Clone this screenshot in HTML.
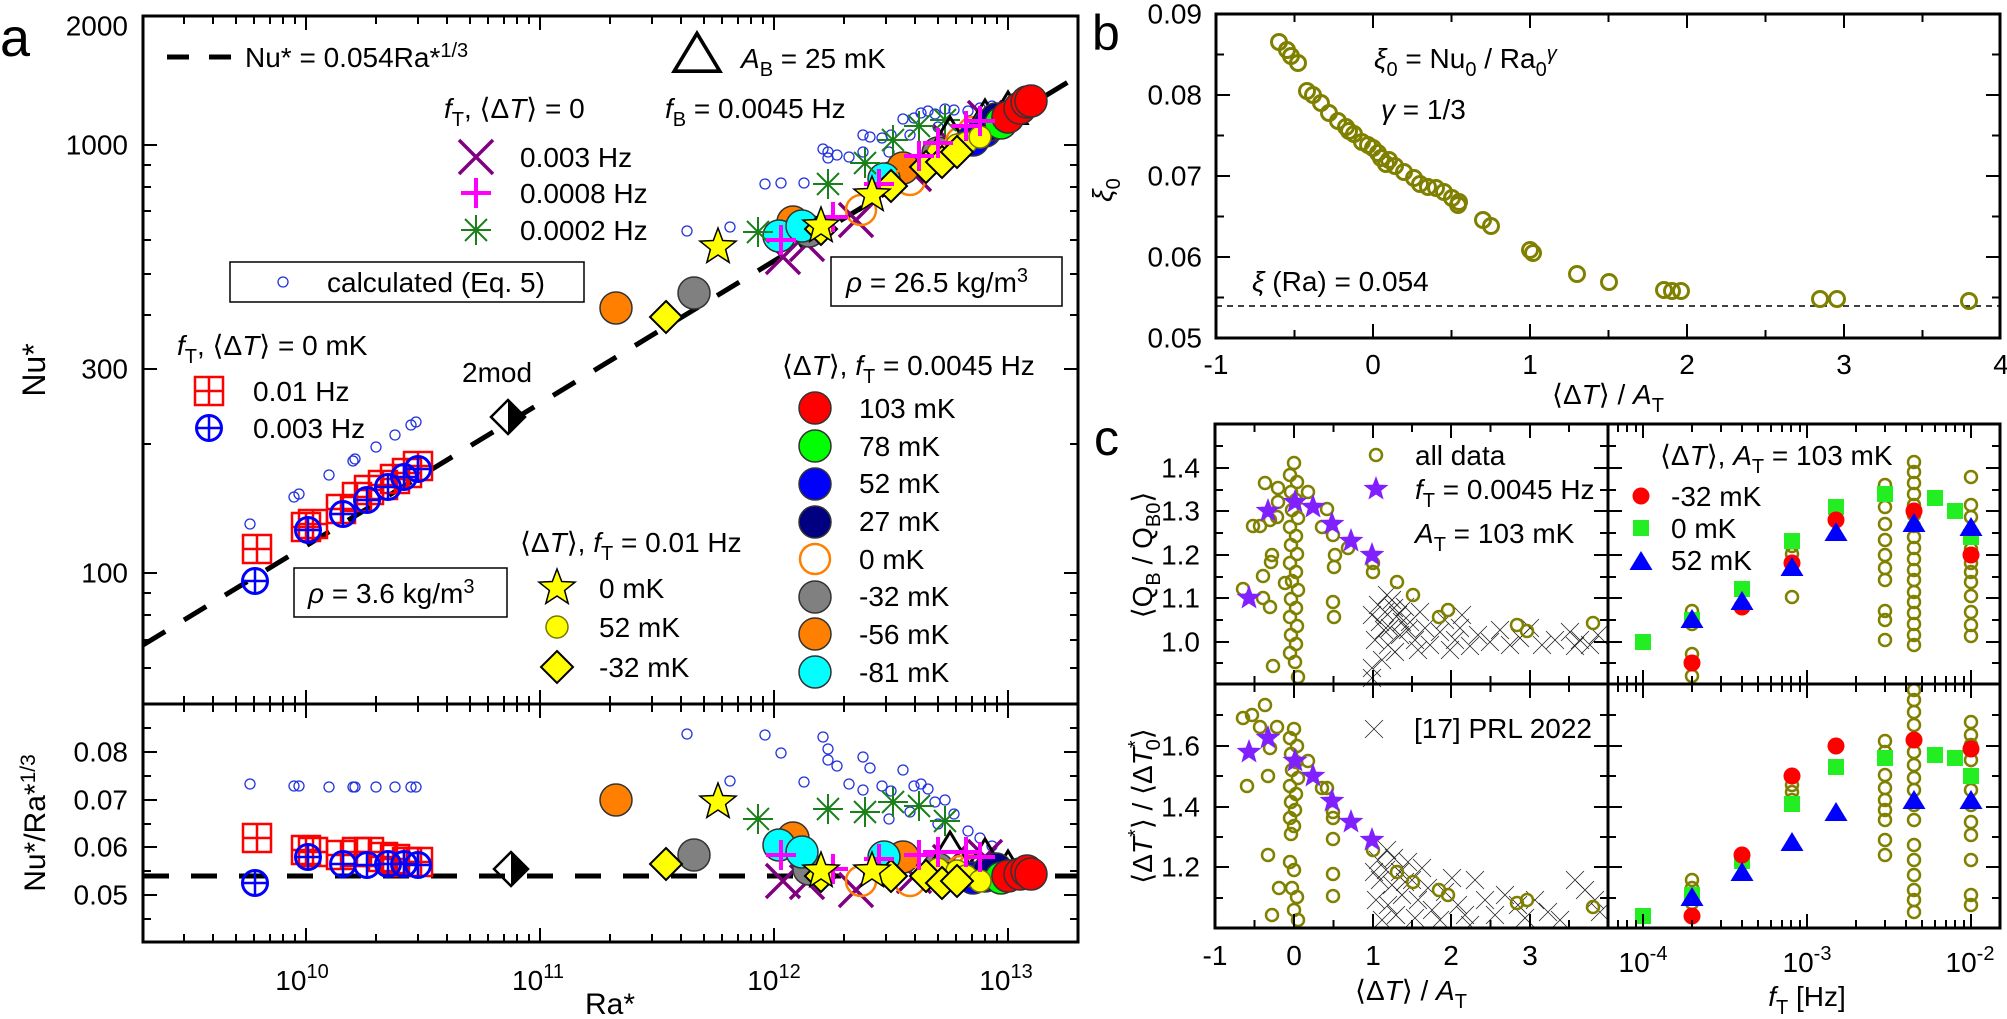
<!DOCTYPE html>
<html><head><meta charset="utf-8">
<style>
html,body{margin:0;padding:0;background:#fff;}
svg{display:block;}
text{font-family:"Liberation Sans",Arial,sans-serif;fill:#000;}
</style></head>
<body>
<svg width="2007" height="1019" viewBox="0 0 2007 1019" xmlns="http://www.w3.org/2000/svg" xmlns:xlink="http://www.w3.org/1999/xlink">
<defs>
<clipPath id="ca"><rect x="143" y="16" width="935" height="688"/></clipPath>
<clipPath id="cb"><rect x="143" y="704" width="935" height="238"/></clipPath>
<clipPath id="cc"><rect x="1215" y="424" width="785" height="504"/></clipPath>
<circle id="cs" r="5" fill="none" stroke="#2233dd" stroke-width="1.3"/>
<g id="sqg" fill="none" stroke="#f00" stroke-width="2.5"><rect x="-14" y="-14" width="28" height="28"/><path d="M-14 0H14M0 -14V14"/></g>
<g id="opl" fill="none" stroke="#00f" stroke-width="3"><circle r="12.5"/><path d="M-12.5 0H12.5M0 -12.5V12.5" stroke-width="2.5"/></g>
<path id="px" d="M-17 -17L17 17M-17 17L17 -17" stroke="#800080" stroke-width="3.5" fill="none"/>
<path id="mp" d="M-15 0H15M0 -15V15" stroke="#ff00ff" stroke-width="4" fill="none"/>
<path id="as" d="M-15 0H15M0 -15V15M-11 -11L11 11M-11 11L11 -11" stroke="#1a801a" stroke-width="2" fill="none"/>
<polygon id="tr" points="0,-18 19,13.5 -19,13.5" fill="none" stroke="#000" stroke-width="3"/>
<polygon id="yd" points="0,-16 16,0 0,16 -16,0" fill="#ffff00" stroke="#000" stroke-width="2"/>
<polygon id="ys" points="0,-19 4.7,-6.47 18.07,-5.87 7.61,2.47 11.17,15.37 0,8 -11.17,15.37 -7.61,2.47 -18.07,-5.87 -4.7,-6.47" fill="#ffff00" stroke="#000" stroke-width="1.5"/>
<circle id="yc" r="11" fill="#ffff00" stroke="#777700" stroke-width="1.5"/>
<circle id="cR" r="16" fill="#ff0000" stroke="#333" stroke-width="1.5"/>
<circle id="cG" r="16" fill="#00ff00" stroke="#333" stroke-width="1.5"/>
<circle id="cB" r="16" fill="#0000ff" stroke="#333" stroke-width="1.5"/>
<circle id="cN" r="16" fill="#000080" stroke="#333" stroke-width="1.5"/>
<circle id="cO" r="15" fill="none" stroke="#ff8000" stroke-width="2.5"/>
<circle id="cY" r="16" fill="#808080" stroke="#333" stroke-width="1.5"/>
<circle id="cA" r="16" fill="#ff8000" stroke="#333" stroke-width="1.5"/>
<circle id="cC" r="16" fill="#00ffff" stroke="#333" stroke-width="1.5"/>
<g id="hd"><polygon points="0,-17 17,0 0,17" fill="#000"/><polygon points="0,-17 17,0 0,17 -17,0" fill="none" stroke="#000" stroke-width="2.5"/></g>
<circle id="oc" r="6" fill="none" stroke="#808000" stroke-width="2.5"/>
<circle id="ob" r="7.5" fill="none" stroke="#808000" stroke-width="3"/>
<polygon id="ps" points="0,-13 3.2,-4.4 12.4,-4 5.2,1.7 7.6,10.5 0,5.5 -7.6,10.5 -5.2,1.7 -12.4,-4 -3.2,-4.4" fill="#8020ff"/>
<path id="kx" d="M-9 -9L9 9M-9 9L9 -9" stroke="#222" stroke-width="0.8" fill="none"/>
<rect id="gs" x="-8" y="-8" width="16" height="16" fill="#22ee22"/>
<circle id="rd" r="8.5" fill="#ff0000"/>
<polygon id="bt" points="0,-11 11.5,8 -11.5,8" fill="#0000ff"/>
<path id="mxa" d="M184 0V8M213 0V8M236 0V8M254 0V8M270 0V8M283 0V8M295 0V8M376 0V8M418 0V8M447 0V8M470 0V8M488 0V8M504 0V8M517 0V8M529 0V8M610 0V8M652 0V8M681 0V8M704 0V8M722 0V8M738 0V8M751 0V8M763 0V8M844 0V8M886 0V8M915 0V8M938 0V8M956 0V8M972 0V8M985 0V8M997 0V8" stroke="#000" stroke-width="2"/>
<path id="Mxa" d="M306 0V14M540 0V14M774 0V14M1008 0V14" stroke="#000" stroke-width="2"/>
<path id="mxc" d="M1254.5 0V8M1333.5 0V8M1412 0V8M1490.5 0V8M1569 0V8M1618 0V8M1627 0V8M1636 0V8M1692 0V8M1721 0V8M1742 0V8M1758 0V8M1771 0V8M1782 0V8M1791 0V8M1800 0V8M1856 0V8M1885 0V8M1906 0V8M1922 0V8M1935 0V8M1946 0V8M1955 0V8M1964 0V8" stroke="#000" stroke-width="2"/>
<path id="Mxc" d="M1294 0V14M1373 0V14M1451 0V14M1530 0V14M1643 0V14M1807 0V14M1971 0V14" stroke="#000" stroke-width="2"/>
</defs>

<!-- ===== Panel a top data ===== -->
<g clip-path="url(#ca)">
<path d="M143 645L1078 76" stroke="#000" stroke-width="5" stroke-dasharray="26,22" fill="none"/>
<use href="#cs" x="250" y="524"/><use href="#cs" x="294" y="497"/><use href="#cs" x="299" y="494"/><use href="#cs" x="329" y="475"/><use href="#cs" x="353" y="461"/><use href="#cs" x="355" y="459"/><use href="#cs" x="376" y="447"/><use href="#cs" x="395" y="435"/><use href="#cs" x="411" y="425"/><use href="#cs" x="416" y="422"/>
<use href="#cs" x="687" y="231"/><use href="#cs" x="730" y="227"/><use href="#cs" x="765" y="184"/><use href="#cs" x="781" y="183"/><use href="#cs" x="804" y="183"/><use href="#cs" x="823" y="149"/><use href="#cs" x="828" y="152"/><use href="#cs" x="828" y="158"/><use href="#cs" x="837" y="155"/><use href="#cs" x="849" y="157"/><use href="#cs" x="863" y="152"/><use href="#cs" x="863" y="135"/><use href="#cs" x="870" y="137"/><use href="#cs" x="882" y="138"/><use href="#cs" x="891" y="135"/><use href="#cs" x="903" y="119"/><use href="#cs" x="914" y="118"/><use href="#cs" x="921" y="113"/><use href="#cs" x="928" y="111"/><use href="#cs" x="935" y="114"/><use href="#cs" x="945" y="109"/><use href="#cs" x="954" y="110"/><use href="#cs" x="968" y="111"/><use href="#cs" x="992" y="106"/><use href="#cs" x="994" y="114"/><use href="#cs" x="966" y="133"/><use href="#cs" x="964" y="142"/><use href="#cs" x="992" y="122"/><use href="#cs" x="910" y="135"/><use href="#cs" x="889" y="152"/><use href="#cs" x="938" y="127"/><use href="#cs" x="980" y="108"/>
<use href="#sqg" x="257" y="549"/><use href="#sqg" x="306" y="527"/><use href="#sqg" x="313" y="524"/><use href="#sqg" x="341" y="509"/><use href="#sqg" x="357" y="497"/><use href="#sqg" x="369" y="490"/><use href="#sqg" x="383" y="485"/><use href="#sqg" x="395" y="479"/><use href="#sqg" x="407" y="473"/><use href="#sqg" x="418" y="466"/>
<use href="#opl" x="255" y="581"/><use href="#opl" x="308" y="530"/><use href="#opl" x="343" y="514"/><use href="#opl" x="367" y="500"/><use href="#opl" x="388" y="487"/><use href="#opl" x="404" y="477"/><use href="#opl" x="418" y="469"/>
<use href="#hd" x="508" y="417"/>
<use href="#px" x="783" y="257"/><use href="#px" x="807" y="244"/><use href="#px" x="856" y="220"/><use href="#px" x="914" y="174"/><use href="#px" x="950" y="142"/><use href="#px" x="985" y="118"/>
<use href="#cY" x="694" y="293"/><use href="#cY" x="809" y="231"/><use href="#cY" x="891" y="178"/><use href="#cY" x="938" y="153"/>
<use href="#cA" x="616" y="308"/><use href="#cA" x="793" y="222"/><use href="#cA" x="903" y="168"/>
<use href="#cC" x="779" y="236"/><use href="#cC" x="802" y="226"/><use href="#cC" x="884" y="179"/>
<use href="#cO" x="861" y="210"/><use href="#cO" x="910" y="180"/><use href="#cO" x="961" y="142"/><use href="#cO" x="973" y="132"/>
<use href="#as" x="758" y="232"/><use href="#as" x="828" y="184"/><use href="#as" x="865" y="163"/><use href="#as" x="893" y="140"/><use href="#as" x="919" y="126"/><use href="#as" x="945" y="120"/>
<use href="#tr" x="950" y="135"/><use href="#tr" x="985" y="118"/><use href="#tr" x="1008" y="110"/>
<use href="#cB" x="973" y="140"/><use href="#cB" x="985" y="131"/><use href="#cB" x="992" y="125"/>
<use href="#cN" x="989" y="125"/><use href="#cN" x="996" y="119"/>
<use href="#cG" x="1001" y="123"/><use href="#cG" x="1008" y="117"/>
<use href="#cR" x="1008" y="117"/><use href="#cR" x="1020" y="108"/><use href="#cR" x="1027" y="102"/><use href="#cR" x="1031" y="101"/>
<use href="#yc" x="938" y="153"/><use href="#yc" x="957" y="145"/><use href="#yc" x="966" y="143"/><use href="#yc" x="980" y="137"/>
<use href="#yd" x="666" y="317"/><use href="#yd" x="821" y="229"/><use href="#yd" x="891" y="186"/><use href="#yd" x="926" y="167"/><use href="#yd" x="942" y="162"/><use href="#yd" x="957" y="152"/>
<use href="#mp" x="781" y="240"/><use href="#mp" x="833" y="217"/><use href="#mp" x="879" y="184"/><use href="#mp" x="919" y="156"/><use href="#mp" x="938" y="143"/><use href="#mp" x="966" y="126"/><use href="#mp" x="980" y="121"/>
<use href="#ys" x="718" y="247"/><use href="#ys" x="821" y="226"/><use href="#ys" x="872" y="195"/>
</g>

<!-- ===== Panel a bottom data ===== -->
<g clip-path="url(#cb)">
<path d="M143 876H1078" stroke="#000" stroke-width="5" stroke-dasharray="26,22" fill="none"/>
<use href="#cs" x="250" y="784"/><use href="#cs" x="294" y="786"/><use href="#cs" x="299" y="786"/><use href="#cs" x="329" y="787"/><use href="#cs" x="353" y="787"/><use href="#cs" x="355" y="787"/><use href="#cs" x="376" y="787"/><use href="#cs" x="395" y="787"/><use href="#cs" x="411" y="787"/><use href="#cs" x="416" y="787"/>
<use href="#cs" x="687" y="734"/><use href="#cs" x="730" y="781"/><use href="#cs" x="765" y="735"/><use href="#cs" x="781" y="753"/><use href="#cs" x="804" y="782"/><use href="#cs" x="823" y="737"/><use href="#cs" x="828" y="749"/><use href="#cs" x="828" y="760"/><use href="#cs" x="837" y="766"/><use href="#cs" x="849" y="784"/><use href="#cs" x="863" y="790"/><use href="#cs" x="863" y="757"/><use href="#cs" x="870" y="768"/><use href="#cs" x="882" y="786"/><use href="#cs" x="891" y="791"/><use href="#cs" x="903" y="770"/><use href="#cs" x="914" y="786"/><use href="#cs" x="921" y="784"/><use href="#cs" x="928" y="789"/><use href="#cs" x="935" y="802"/><use href="#cs" x="945" y="800"/><use href="#cs" x="954" y="814"/><use href="#cs" x="968" y="831"/><use href="#cs" x="992" y="846"/><use href="#cs" x="994" y="859"/><use href="#cs" x="966" y="862"/><use href="#cs" x="964" y="872"/><use href="#cs" x="992" y="869"/><use href="#cs" x="910" y="812"/><use href="#cs" x="889" y="819"/><use href="#cs" x="938" y="824"/><use href="#cs" x="980" y="838"/>
<use href="#sqg" x="257" y="838"/><use href="#sqg" x="306" y="850"/><use href="#sqg" x="313" y="852"/><use href="#sqg" x="341" y="855"/><use href="#sqg" x="357" y="852"/><use href="#sqg" x="369" y="852"/><use href="#sqg" x="383" y="857"/><use href="#sqg" x="395" y="859"/><use href="#sqg" x="407" y="862"/><use href="#sqg" x="418" y="862"/>
<use href="#opl" x="255" y="883"/><use href="#opl" x="308" y="857"/><use href="#opl" x="343" y="864"/><use href="#opl" x="367" y="865"/><use href="#opl" x="388" y="864"/><use href="#opl" x="404" y="864"/><use href="#opl" x="418" y="865"/>
<use href="#hd" x="511" y="869"/>
<use href="#px" x="783" y="881"/><use href="#px" x="807" y="882"/><use href="#px" x="856" y="890"/><use href="#px" x="914" y="876"/><use href="#px" x="950" y="862"/><use href="#px" x="985" y="857"/>
<use href="#cY" x="694" y="855"/><use href="#cY" x="809" y="869"/><use href="#cY" x="891" y="862"/><use href="#cY" x="938" y="869"/>
<use href="#cA" x="616" y="800"/><use href="#cA" x="793" y="838"/><use href="#cA" x="903" y="857"/>
<use href="#cC" x="779" y="845"/><use href="#cC" x="802" y="852"/><use href="#cC" x="884" y="857"/>
<use href="#cO" x="861" y="881"/><use href="#cO" x="910" y="881"/><use href="#cO" x="961" y="871"/><use href="#cO" x="973" y="869"/>
<use href="#as" x="758" y="819"/><use href="#as" x="828" y="809"/><use href="#as" x="865" y="812"/><use href="#as" x="893" y="802"/><use href="#as" x="919" y="806"/><use href="#as" x="945" y="821"/>
<use href="#tr" x="950" y="850"/><use href="#tr" x="985" y="857"/><use href="#tr" x="1008" y="869"/>
<use href="#cB" x="973" y="878"/><use href="#cB" x="985" y="876"/><use href="#cB" x="992" y="874"/>
<use href="#cN" x="989" y="871"/><use href="#cN" x="996" y="869"/>
<use href="#cG" x="1001" y="878"/><use href="#cG" x="1008" y="876"/>
<use href="#cR" x="1008" y="876"/><use href="#cR" x="1020" y="874"/><use href="#cR" x="1027" y="871"/><use href="#cR" x="1031" y="874"/>
<use href="#yc" x="938" y="869"/><use href="#yc" x="957" y="871"/><use href="#yc" x="966" y="876"/><use href="#yc" x="980" y="881"/>
<use href="#yd" x="666" y="864"/><use href="#yd" x="821" y="876"/><use href="#yd" x="891" y="876"/><use href="#yd" x="926" y="876"/><use href="#yd" x="942" y="883"/><use href="#yd" x="957" y="881"/>
<use href="#mp" x="781" y="855"/><use href="#mp" x="833" y="869"/><use href="#mp" x="879" y="859"/><use href="#mp" x="919" y="855"/><use href="#mp" x="938" y="852"/><use href="#mp" x="966" y="852"/><use href="#mp" x="980" y="857"/>
<use href="#ys" x="718" y="802"/><use href="#ys" x="821" y="871"/><use href="#ys" x="872" y="871"/>
</g>

<!-- ===== Panel b data ===== -->
<path d="M1216 306H2000" stroke="#000" stroke-width="1.5" stroke-dasharray="6,5"/>
<g>
<use href="#ob" x="1279" y="42"/><use href="#ob" x="1287" y="50"/><use href="#ob" x="1291" y="56"/><use href="#ob" x="1298" y="63"/><use href="#ob" x="1307" y="91"/><use href="#ob" x="1313" y="95"/><use href="#ob" x="1321" y="103"/><use href="#ob" x="1329" y="113"/><use href="#ob" x="1338" y="121"/><use href="#ob" x="1346" y="127"/><use href="#ob" x="1349" y="131"/><use href="#ob" x="1354" y="134"/><use href="#ob" x="1362" y="142"/><use href="#ob" x="1368" y="145"/><use href="#ob" x="1373" y="148"/><use href="#ob" x="1378" y="153"/><use href="#ob" x="1381" y="158"/><use href="#ob" x="1386" y="164"/><use href="#ob" x="1389" y="160"/><use href="#ob" x="1395" y="166"/><use href="#ob" x="1404" y="172"/><use href="#ob" x="1414" y="178"/><use href="#ob" x="1420" y="184"/><use href="#ob" x="1428" y="187"/><use href="#ob" x="1436" y="188"/><use href="#ob" x="1444" y="192"/><use href="#ob" x="1452" y="198"/><use href="#ob" x="1458" y="205"/><use href="#ob" x="1459" y="202"/><use href="#ob" x="1483" y="220"/><use href="#ob" x="1491" y="226"/><use href="#ob" x="1530" y="250"/><use href="#ob" x="1533" y="253"/><use href="#ob" x="1577" y="274"/><use href="#ob" x="1609" y="282"/><use href="#ob" x="1664" y="290"/><use href="#ob" x="1672" y="291"/><use href="#ob" x="1681" y="291"/><use href="#ob" x="1820" y="299"/><use href="#ob" x="1837" y="299"/><use href="#ob" x="1969" y="301"/>
</g>

<!-- ===== Panel c data ===== -->
<g clip-path="url(#cc)">
<!-- crosses top -->
<use href="#kx" x="1378" y="605"/><use href="#kx" x="1385" y="612"/><use href="#kx" x="1392" y="600"/><use href="#kx" x="1380" y="622"/><use href="#kx" x="1390" y="628"/><use href="#kx" x="1398" y="615"/><use href="#kx" x="1405" y="607"/><use href="#kx" x="1410" y="622"/><use href="#kx" x="1375" y="640"/><use href="#kx" x="1388" y="645"/><use href="#kx" x="1400" y="635"/><use href="#kx" x="1415" y="640"/><use href="#kx" x="1420" y="612"/><use href="#kx" x="1395" y="652"/><use href="#kx" x="1382" y="660"/><use href="#kx" x="1425" y="628"/><use href="#kx" x="1430" y="645"/><use href="#kx" x="1372" y="615"/><use href="#kx" x="1402" y="622"/><use href="#kx" x="1387" y="595"/><use href="#kx" x="1372" y="668"/><use href="#kx" x="1372" y="678"/><use href="#kx" x="1440" y="632"/><use href="#kx" x="1445" y="620"/><use href="#kx" x="1455" y="640"/><use href="#kx" x="1460" y="628"/><use href="#kx" x="1470" y="646"/><use href="#kx" x="1478" y="635"/><use href="#kx" x="1490" y="642"/><use href="#kx" x="1500" y="630"/><use href="#kx" x="1510" y="645"/><use href="#kx" x="1520" y="638"/><use href="#kx" x="1530" y="628"/><use href="#kx" x="1542" y="645"/><use href="#kx" x="1555" y="640"/><use href="#kx" x="1570" y="632"/><use href="#kx" x="1580" y="640"/><use href="#kx" x="1590" y="645"/><use href="#kx" x="1598" y="635"/><use href="#kx" x="1575" y="646"/><use href="#kx" x="1462" y="615"/><use href="#kx" x="1450" y="650"/><use href="#kx" x="1394" y="608"/><use href="#kx" x="1384" y="630"/><use href="#kx" x="1408" y="630"/><use href="#kx" x="1418" y="650"/>
<!-- crosses bottom -->
<use href="#kx" x="1378" y="860"/><use href="#kx" x="1386" y="870"/><use href="#kx" x="1394" y="858"/><use href="#kx" x="1380" y="880"/><use href="#kx" x="1392" y="885"/><use href="#kx" x="1400" y="872"/><use href="#kx" x="1408" y="862"/><use href="#kx" x="1412" y="880"/><use href="#kx" x="1376" y="900"/><use href="#kx" x="1388" y="905"/><use href="#kx" x="1402" y="895"/><use href="#kx" x="1418" y="900"/><use href="#kx" x="1422" y="868"/><use href="#kx" x="1396" y="915"/><use href="#kx" x="1382" y="920"/><use href="#kx" x="1428" y="888"/><use href="#kx" x="1432" y="910"/><use href="#kx" x="1374" y="872"/><use href="#kx" x="1405" y="882"/><use href="#kx" x="1387" y="850"/><use href="#kx" x="1445" y="892"/><use href="#kx" x="1452" y="878"/><use href="#kx" x="1458" y="905"/><use href="#kx" x="1465" y="915"/><use href="#kx" x="1475" y="880"/><use href="#kx" x="1485" y="900"/><use href="#kx" x="1495" y="915"/><use href="#kx" x="1505" y="895"/><use href="#kx" x="1518" y="905"/><use href="#kx" x="1525" y="918"/><use href="#kx" x="1535" y="900"/><use href="#kx" x="1548" y="912"/><use href="#kx" x="1560" y="920"/><use href="#kx" x="1575" y="880"/><use href="#kx" x="1585" y="890"/><use href="#kx" x="1595" y="900"/><use href="#kx" x="1600" y="912"/><use href="#kx" x="1440" y="920"/><use href="#kx" x="1470" y="925"/><use href="#kx" x="1415" y="918"/>
<!-- olive top left -->
<use href="#oc" x="1243" y="589"/><use href="#oc" x="1253" y="526"/><use href="#oc" x="1260" y="526"/><use href="#oc" x="1265" y="483"/><use href="#oc" x="1270" y="520"/><use href="#oc" x="1278" y="488"/><use href="#oc" x="1278" y="502"/><use href="#oc" x="1277" y="517"/><use href="#oc" x="1263" y="576"/><use href="#oc" x="1263" y="598"/><use href="#oc" x="1270" y="607"/><use href="#oc" x="1272" y="555"/><use href="#oc" x="1271" y="562"/><use href="#oc" x="1273" y="666"/><use href="#oc" x="1285" y="583"/>
<use href="#oc" x="1294" y="463"/><use href="#oc" x="1290" y="475"/><use href="#oc" x="1297" y="482"/><use href="#oc" x="1291" y="492"/><use href="#oc" x="1296" y="500"/><use href="#oc" x="1292" y="510"/><use href="#oc" x="1298" y="518"/><use href="#oc" x="1290" y="527"/><use href="#oc" x="1296" y="536"/><use href="#oc" x="1291" y="545"/><use href="#oc" x="1297" y="554"/><use href="#oc" x="1290" y="563"/><use href="#oc" x="1296" y="572"/><use href="#oc" x="1292" y="581"/><use href="#oc" x="1298" y="590"/><use href="#oc" x="1291" y="599"/><use href="#oc" x="1296" y="608"/><use href="#oc" x="1290" y="617"/><use href="#oc" x="1297" y="626"/><use href="#oc" x="1291" y="635"/><use href="#oc" x="1296" y="644"/><use href="#oc" x="1290" y="653"/><use href="#oc" x="1295" y="662"/><use href="#oc" x="1298" y="677"/>
<use href="#oc" x="1308" y="492"/><use href="#oc" x="1327" y="509"/><use href="#oc" x="1322" y="527"/><use href="#oc" x="1333" y="535"/><use href="#oc" x="1335" y="555"/><use href="#oc" x="1334" y="567"/><use href="#oc" x="1333" y="602"/><use href="#oc" x="1334" y="617"/><use href="#oc" x="1348" y="548"/><use href="#oc" x="1373" y="563"/><use href="#oc" x="1373" y="572"/><use href="#oc" x="1397" y="582"/><use href="#oc" x="1413" y="595"/><use href="#oc" x="1439" y="617"/><use href="#oc" x="1448" y="610"/><use href="#oc" x="1517" y="625"/><use href="#oc" x="1527" y="631"/><use href="#oc" x="1593" y="623"/>
<!-- olive bottom left -->
<use href="#oc" x="1243" y="718"/><use href="#oc" x="1252" y="715"/><use href="#oc" x="1265" y="705"/><use href="#oc" x="1260" y="727"/><use href="#oc" x="1277" y="727"/><use href="#oc" x="1270" y="748"/><use href="#oc" x="1268" y="776"/><use href="#oc" x="1247" y="786"/><use href="#oc" x="1268" y="855"/><use href="#oc" x="1279" y="888"/><use href="#oc" x="1272" y="915"/>
<use href="#oc" x="1294" y="729"/><use href="#oc" x="1290" y="738"/><use href="#oc" x="1297" y="746"/><use href="#oc" x="1291" y="754"/><use href="#oc" x="1296" y="762"/><use href="#oc" x="1292" y="770"/><use href="#oc" x="1298" y="778"/><use href="#oc" x="1290" y="786"/><use href="#oc" x="1296" y="794"/><use href="#oc" x="1291" y="802"/><use href="#oc" x="1295" y="810"/><use href="#oc" x="1290" y="818"/><use href="#oc" x="1294" y="826"/><use href="#oc" x="1291" y="834"/><use href="#oc" x="1290" y="862"/><use href="#oc" x="1294" y="870"/><use href="#oc" x="1292" y="888"/><use href="#oc" x="1297" y="897"/><use href="#oc" x="1294" y="910"/><use href="#oc" x="1298" y="920"/>
<use href="#oc" x="1308" y="761"/><use href="#oc" x="1322" y="788"/><use href="#oc" x="1327" y="788"/><use href="#oc" x="1333" y="812"/><use href="#oc" x="1333" y="818"/><use href="#oc" x="1333" y="839"/><use href="#oc" x="1333" y="874"/><use href="#oc" x="1333" y="896"/><use href="#oc" x="1373" y="850"/><use href="#oc" x="1397" y="872"/><use href="#oc" x="1413" y="882"/><use href="#oc" x="1439" y="890"/><use href="#oc" x="1448" y="895"/><use href="#oc" x="1517" y="903"/><use href="#oc" x="1527" y="900"/><use href="#oc" x="1593" y="907"/>
<!-- stars -->
<use href="#ps" x="1249" y="598"/><use href="#ps" x="1268" y="511"/><use href="#ps" x="1295" y="502"/><use href="#ps" x="1313" y="507"/><use href="#ps" x="1332" y="524"/><use href="#ps" x="1351" y="541"/><use href="#ps" x="1372" y="555"/>
<use href="#ps" x="1249" y="752"/><use href="#ps" x="1268" y="738"/><use href="#ps" x="1295" y="761"/><use href="#ps" x="1313" y="776"/><use href="#ps" x="1332" y="801"/><use href="#ps" x="1351" y="822"/><use href="#ps" x="1372" y="840"/>
<!-- right c olive top -->
<use href="#oc" x="1692" y="676"/><use href="#oc" x="1692" y="654"/><use href="#oc" x="1692" y="624"/><use href="#oc" x="1692" y="611"/>
<use href="#oc" x="1792" y="597"/><use href="#oc" x="1792" y="563"/><use href="#oc" x="1792" y="554"/><use href="#oc" x="1792" y="546"/>
<use href="#oc" x="1885" y="640"/><use href="#oc" x="1885" y="620"/><use href="#oc" x="1885" y="611"/><use href="#oc" x="1885" y="580"/><use href="#oc" x="1885" y="568"/><use href="#oc" x="1885" y="555"/><use href="#oc" x="1885" y="540"/><use href="#oc" x="1885" y="524"/><use href="#oc" x="1885" y="507"/><use href="#oc" x="1885" y="485"/>
<use href="#oc" x="1914" y="462"/><use href="#oc" x="1914" y="472"/><use href="#oc" x="1914" y="483"/><use href="#oc" x="1914" y="494"/><use href="#oc" x="1914" y="505"/><use href="#oc" x="1914" y="515"/><use href="#oc" x="1914" y="526"/><use href="#oc" x="1914" y="537"/><use href="#oc" x="1914" y="548"/><use href="#oc" x="1914" y="559"/><use href="#oc" x="1914" y="570"/><use href="#oc" x="1914" y="580"/><use href="#oc" x="1914" y="592"/><use href="#oc" x="1914" y="602"/><use href="#oc" x="1914" y="613"/><use href="#oc" x="1914" y="624"/><use href="#oc" x="1914" y="635"/><use href="#oc" x="1914" y="645"/>
<use href="#oc" x="1971" y="477"/><use href="#oc" x="1971" y="505"/><use href="#oc" x="1971" y="517"/><use href="#oc" x="1971" y="535"/><use href="#oc" x="1971" y="549"/><use href="#oc" x="1971" y="563"/><use href="#oc" x="1971" y="572"/><use href="#oc" x="1971" y="582"/><use href="#oc" x="1971" y="596"/><use href="#oc" x="1971" y="612"/><use href="#oc" x="1971" y="625"/><use href="#oc" x="1971" y="636"/>
<!-- right c olive bottom -->
<use href="#oc" x="1692" y="880"/><use href="#oc" x="1692" y="888"/><use href="#oc" x="1692" y="903"/>
<use href="#oc" x="1792" y="800"/><use href="#oc" x="1792" y="792"/><use href="#oc" x="1792" y="785"/>
<use href="#oc" x="1885" y="741"/><use href="#oc" x="1885" y="752"/><use href="#oc" x="1885" y="775"/><use href="#oc" x="1885" y="788"/><use href="#oc" x="1885" y="800"/><use href="#oc" x="1885" y="810"/><use href="#oc" x="1885" y="820"/><use href="#oc" x="1885" y="840"/><use href="#oc" x="1885" y="855"/>
<use href="#oc" x="1914" y="690"/><use href="#oc" x="1914" y="700"/><use href="#oc" x="1914" y="712"/><use href="#oc" x="1914" y="725"/><use href="#oc" x="1914" y="740"/><use href="#oc" x="1914" y="752"/><use href="#oc" x="1914" y="765"/><use href="#oc" x="1914" y="778"/><use href="#oc" x="1914" y="790"/><use href="#oc" x="1914" y="805"/><use href="#oc" x="1914" y="820"/><use href="#oc" x="1914" y="845"/><use href="#oc" x="1914" y="860"/><use href="#oc" x="1914" y="875"/><use href="#oc" x="1914" y="890"/><use href="#oc" x="1914" y="900"/><use href="#oc" x="1914" y="912"/>
<use href="#oc" x="1971" y="722"/><use href="#oc" x="1971" y="735"/><use href="#oc" x="1971" y="745"/><use href="#oc" x="1971" y="760"/><use href="#oc" x="1971" y="775"/><use href="#oc" x="1971" y="790"/><use href="#oc" x="1971" y="805"/><use href="#oc" x="1971" y="822"/><use href="#oc" x="1971" y="835"/><use href="#oc" x="1971" y="860"/><use href="#oc" x="1971" y="895"/><use href="#oc" x="1971" y="905"/>
<!-- right c filled -->
<use href="#gs" x="1643" y="642"/><use href="#gs" x="1692" y="620"/><use href="#gs" x="1742" y="589"/><use href="#gs" x="1792" y="541"/><use href="#gs" x="1836" y="507"/><use href="#gs" x="1885" y="494"/><use href="#gs" x="1935" y="498"/><use href="#gs" x="1955" y="511"/><use href="#gs" x="1971" y="537"/>
<use href="#rd" x="1692" y="663"/><use href="#rd" x="1742" y="607"/><use href="#rd" x="1792" y="563"/><use href="#rd" x="1836" y="520"/><use href="#rd" x="1914" y="511"/><use href="#rd" x="1971" y="555"/>
<use href="#bt" x="1692" y="620"/><use href="#bt" x="1742" y="602"/><use href="#bt" x="1792" y="568"/><use href="#bt" x="1836" y="533"/><use href="#bt" x="1914" y="524"/><use href="#bt" x="1971" y="528"/>
<use href="#gs" x="1643" y="916"/><use href="#gs" x="1692" y="895"/><use href="#gs" x="1742" y="861"/><use href="#gs" x="1792" y="804"/><use href="#gs" x="1836" y="767"/><use href="#gs" x="1885" y="758"/><use href="#gs" x="1935" y="755"/><use href="#gs" x="1955" y="758"/><use href="#gs" x="1971" y="776"/>
<use href="#rd" x="1692" y="916"/><use href="#rd" x="1742" y="855"/><use href="#rd" x="1792" y="776"/><use href="#rd" x="1836" y="746"/><use href="#rd" x="1914" y="740"/><use href="#rd" x="1971" y="749"/>
<use href="#bt" x="1692" y="898"/><use href="#bt" x="1742" y="873"/><use href="#bt" x="1792" y="843"/><use href="#bt" x="1836" y="813"/><use href="#bt" x="1914" y="801"/><use href="#bt" x="1971" y="801"/>
</g>

<!-- ===== Axes ===== -->
<g fill="none" stroke="#000">
<rect x="143" y="16" width="935" height="926" stroke-width="3"/>
<path d="M143 704H1078" stroke-width="3"/>
<use href="#mxa" y="16"/><use href="#mxa" y="696"/><use href="#mxa" y="704"/><use href="#mxa" y="934"/>
<use href="#Mxa" y="16"/><use href="#Mxa" y="690"/><use href="#Mxa" y="704"/><use href="#Mxa" y="928"/>
<path stroke-width="2" d="M143 573h14M143 369h14M143 145h14M1078 573h-14M1078 369h-14M1078 145h-14
M143 444h8M143 315h8M143 274h8M143 240h8M143 211h8M143 187h8M143 165h8M143 593h8M143 615h8M143 640h8M143 668h8
M1078 444h-8M1078 315h-8M1078 274h-8M1078 240h-8M1078 211h-8M1078 187h-8M1078 165h-8M1078 593h-8M1078 615h-8M1078 640h-8M1078 668h-8
M143 752h14M143 800h14M143 847h14M143 895h14M1078 752h-14M1078 800h-14M1078 847h-14M1078 895h-14
M143 728h8M143 776h8M143 824h8M143 871h8M143 919h8M1078 728h-8M1078 776h-8M1078 824h-8M1078 871h-8M1078 919h-8"/>
<!-- panel b -->
<rect x="1216" y="14" width="784" height="324" stroke-width="3"/>
<path stroke-width="2" d="M1373 14v14M1530 14v14M1687 14v14M1844 14v14M1373 338v-14M1530 338v-14M1687 338v-14M1844 338v-14
M1294.5 14v8M1451.5 14v8M1608.5 14v8M1765.5 14v8M1922.5 14v8M1294.5 338v-8M1451.5 338v-8M1608.5 338v-8M1765.5 338v-8M1922.5 338v-8
M1216 95h14M1216 176h14M1216 257h14M2000 95h-14M2000 176h-14M2000 257h-14
M1216 54.5h8M1216 135.5h8M1216 216.5h8M1216 297.5h8M2000 54.5h-8M2000 135.5h-8M2000 216.5h-8M2000 297.5h-8"/>
<!-- panel c -->
<rect x="1215" y="424" width="785" height="504" stroke-width="3"/>
<path d="M1215 684H2000M1608 424V928" stroke-width="3"/>
<use href="#mxc" y="424"/><use href="#mxc" y="676"/><use href="#mxc" y="684"/><use href="#mxc" y="920"/>
<use href="#Mxc" y="424"/><use href="#Mxc" y="670"/><use href="#Mxc" y="684"/><use href="#Mxc" y="914"/>
<path stroke-width="2" d="M1215 468h14M1215 511h14M1215 555h14M1215 598h14M1215 642h14M1594 468h28M1594 511h28M1594 555h28M1594 598h28M1594 642h28M2000 468h-14M2000 511h-14M2000 555h-14M2000 598h-14M2000 642h-14
M1215 446h8M1215 490h8M1215 533h8M1215 577h8M1215 620h8M1215 663h8M1600 446h16M1600 490h16M1600 533h16M1600 577h16M1600 620h16M1600 663h16M2000 446h-8M2000 490h-8M2000 533h-8M2000 577h-8M2000 620h-8M2000 663h-8
M1215 746h14M1215 807h14M1215 867h14M1594 746h28M1594 807h28M1594 867h28M2000 746h-14M2000 807h-14M2000 867h-14
M1215 715h8M1215 776h8M1215 837h8M1215 898h8M1600 715h16M1600 776h16M1600 837h16M1600 898h16M2000 715h-8M2000 776h-8M2000 837h-8M2000 898h-8"/>
</g>

<!-- ===== Text ===== -->
<g font-size="28">
<text x="0" y="56" font-size="54">a</text>
<text x="1092" y="50" font-size="50">b</text>
<text x="1094" y="455" font-size="50">c</text>
<text x="128" y="26" text-anchor="end" dominant-baseline="central">2000</text>
<text x="128" y="145" text-anchor="end" dominant-baseline="central">1000</text>
<text x="128" y="369" text-anchor="end" dominant-baseline="central">300</text>
<text x="128" y="573" text-anchor="end" dominant-baseline="central">100</text>
<text x="128" y="752" text-anchor="end" dominant-baseline="central">0.08</text>
<text x="128" y="800" text-anchor="end" dominant-baseline="central">0.07</text>
<text x="128" y="847" text-anchor="end" dominant-baseline="central">0.06</text>
<text x="128" y="895" text-anchor="end" dominant-baseline="central">0.05</text>
<text transform="translate(45,370) rotate(-90)" text-anchor="middle" font-size="32">Nu*</text>
<text transform="translate(45,823) rotate(-90)" text-anchor="middle" font-size="30">Nu*/Ra*<tspan dy="-10" font-size="21">1/3</tspan></text>
<text x="302" y="990" text-anchor="middle">10<tspan dy="-12" font-size="20">10</tspan></text>
<text x="538" y="990" text-anchor="middle">10<tspan dy="-12" font-size="20">11</tspan></text>
<text x="774" y="990" text-anchor="middle">10<tspan dy="-12" font-size="20">12</tspan></text>
<text x="1006" y="990" text-anchor="middle">10<tspan dy="-12" font-size="20">13</tspan></text>
<text x="610" y="1014" text-anchor="middle" font-size="30">Ra*</text>
<path d="M167 57H240" stroke="#000" stroke-width="5" stroke-dasharray="22,20"/>
<text x="245" y="67">Nu* = 0.054Ra*<tspan dy="-10" font-size="20">1/3</tspan></text>
<use href="#tr" x="697" y="55" transform="translate(697,55) scale(1.2) translate(-697,-55)"/>
<text x="741" y="68"><tspan font-style="italic">A</tspan><tspan font-size="20" dy="8">B</tspan><tspan dy="-8"> = 25 mK</tspan></text>
<text x="665" y="118"><tspan font-style="italic">f</tspan><tspan font-size="20" dy="8">B</tspan><tspan dy="-8"> = 0.0045 Hz</tspan></text>
<text x="444" y="118"><tspan font-style="italic">f</tspan><tspan font-size="20" dy="8">T</tspan><tspan dy="-8">, ⟨Δ</tspan><tspan font-style="italic">T</tspan>⟩ = 0</text>
<use href="#px" x="476" y="157"/><use href="#mp" x="476" y="193"/><use href="#as" x="476" y="230"/>
<text x="520" y="167">0.003 Hz</text>
<text x="520" y="203">0.0008 Hz</text>
<text x="520" y="240">0.0002 Hz</text>
<rect x="230" y="262" width="354" height="40" fill="#fff" stroke="#000" stroke-width="1.5"/>
<use href="#cs" x="283" y="282"/>
<text x="327" y="292">calculated (Eq. 5)</text>
<rect x="831" y="257" width="231" height="49" fill="#fff" stroke="#000" stroke-width="1.5"/>
<text x="846" y="292"><tspan font-style="italic">ρ</tspan> = 26.5 kg/m<tspan dy="-10" font-size="20">3</tspan></text>
<text x="177" y="355"><tspan font-style="italic">f</tspan><tspan font-size="20" dy="8">T</tspan><tspan dy="-8">, ⟨Δ</tspan><tspan font-style="italic">T</tspan>⟩ = 0 mK</text>
<use href="#sqg" x="209" y="391"/><use href="#opl" x="209" y="428"/>
<text x="253" y="401">0.01 Hz</text>
<text x="253" y="438">0.003 Hz</text>
<text x="462" y="382">2mod</text>
<rect x="294" y="568" width="213" height="49" fill="#fff" stroke="#000" stroke-width="1.5"/>
<text x="308" y="603"><tspan font-style="italic">ρ</tspan> = 3.6 kg/m<tspan dy="-10" font-size="20">3</tspan></text>
<text x="520" y="552">⟨Δ<tspan font-style="italic">T</tspan>⟩, <tspan font-style="italic">f</tspan><tspan font-size="20" dy="8">T</tspan><tspan dy="-8"> = 0.01 Hz</tspan></text>
<use href="#ys" x="557" y="588"/><use href="#yc" x="557" y="627"/><use href="#yd" x="557" y="667"/>
<text x="599" y="598">0 mK</text>
<text x="599" y="637">52 mK</text>
<text x="599" y="677">-32 mK</text>
<text x="782" y="375">⟨Δ<tspan font-style="italic">T</tspan>⟩, <tspan font-style="italic">f</tspan><tspan font-size="20" dy="8">T</tspan><tspan dy="-8"> = 0.0045 Hz</tspan></text>
<use href="#cR" x="815" y="408"/><use href="#cG" x="815" y="446"/><use href="#cB" x="815" y="484"/><use href="#cN" x="815" y="522"/><use href="#cO" x="815" y="559"/><use href="#cY" x="815" y="597"/><use href="#cA" x="815" y="634"/><use href="#cC" x="815" y="672"/>
<text x="859" y="418">103 mK</text>
<text x="859" y="456">78 mK</text>
<text x="859" y="493">52 mK</text>
<text x="859" y="531">27 mK</text>
<text x="859" y="569">0 mK</text>
<text x="859" y="606">-32 mK</text>
<text x="859" y="644">-56 mK</text>
<text x="859" y="682">-81 mK</text>
<text x="1202" y="14" text-anchor="end" dominant-baseline="central">0.09</text>
<text x="1202" y="95" text-anchor="end" dominant-baseline="central">0.08</text>
<text x="1202" y="176" text-anchor="end" dominant-baseline="central">0.07</text>
<text x="1202" y="257" text-anchor="end" dominant-baseline="central">0.06</text>
<text x="1202" y="338" text-anchor="end" dominant-baseline="central">0.05</text>
<text transform="translate(1112,190) rotate(-90)" text-anchor="middle" font-style="italic">ξ<tspan font-style="normal" font-size="20" dy="8">0</tspan></text>
<text x="1216" y="374" text-anchor="middle">-1</text>
<text x="1373" y="374" text-anchor="middle">0</text>
<text x="1530" y="374" text-anchor="middle">1</text>
<text x="1687" y="374" text-anchor="middle">2</text>
<text x="1844" y="374" text-anchor="middle">3</text>
<text x="2001" y="374" text-anchor="middle">4</text>
<text x="1608" y="404" text-anchor="middle">⟨Δ<tspan font-style="italic">T</tspan>⟩ / <tspan font-style="italic">A</tspan><tspan font-size="20" dy="8">T</tspan></text>
<text x="1374" y="68"><tspan font-style="italic">ξ</tspan><tspan font-size="20" dy="8">0</tspan><tspan dy="-8"> = Nu</tspan><tspan font-size="20" dy="8">0</tspan><tspan dy="-8"> / Ra</tspan><tspan font-size="20" dy="8">0</tspan><tspan font-size="20" dy="-16" font-style="italic">γ</tspan></text>
<text x="1381" y="119"><tspan font-style="italic">γ</tspan> = 1/3</text>
<text x="1252" y="291"><tspan font-style="italic">ξ</tspan> (Ra) = 0.054</text>
<text x="1200" y="468" text-anchor="end" dominant-baseline="central">1.4</text>
<text x="1200" y="511" text-anchor="end" dominant-baseline="central">1.3</text>
<text x="1200" y="555" text-anchor="end" dominant-baseline="central">1.2</text>
<text x="1200" y="598" text-anchor="end" dominant-baseline="central">1.1</text>
<text x="1200" y="642" text-anchor="end" dominant-baseline="central">1.0</text>
<text x="1200" y="746" text-anchor="end" dominant-baseline="central">1.6</text>
<text x="1200" y="807" text-anchor="end" dominant-baseline="central">1.4</text>
<text x="1200" y="867" text-anchor="end" dominant-baseline="central">1.2</text>
<text transform="translate(1152,555) rotate(-90)" text-anchor="middle">⟨Q<tspan font-size="20" dy="8">B</tspan><tspan dy="-8"> / Q</tspan><tspan font-size="20" dy="8">B0</tspan><tspan dy="-8">⟩</tspan></text>
<text transform="translate(1152,806) rotate(-90)" text-anchor="middle">⟨Δ<tspan font-style="italic">T</tspan><tspan font-size="20" dy="-10">*</tspan><tspan dy="10">⟩ / ⟨Δ</tspan><tspan font-style="italic">T</tspan><tspan font-size="20" dy="-10">*</tspan><tspan font-size="20" dy="18" dx="-10">0</tspan><tspan dy="-8">⟩</tspan></text>
<text x="1215" y="965" text-anchor="middle">-1</text>
<text x="1294" y="965" text-anchor="middle">0</text>
<text x="1373" y="965" text-anchor="middle">1</text>
<text x="1451" y="965" text-anchor="middle">2</text>
<text x="1530" y="965" text-anchor="middle">3</text>
<text x="1411" y="1000" text-anchor="middle">⟨Δ<tspan font-style="italic">T</tspan>⟩ / <tspan font-style="italic">A</tspan><tspan font-size="20" dy="8">T</tspan></text>
<text x="1643" y="972" text-anchor="middle">10<tspan dy="-12" font-size="20">-4</tspan></text>
<text x="1807" y="972" text-anchor="middle">10<tspan dy="-12" font-size="20">-3</tspan></text>
<text x="1970" y="972" text-anchor="middle">10<tspan dy="-12" font-size="20">-2</tspan></text>
<text x="1807" y="1006" text-anchor="middle"><tspan font-style="italic">f</tspan><tspan font-size="20" dy="8">T</tspan><tspan dy="-8"> [Hz]</tspan></text>
<use href="#oc" x="1376" y="455"/><use href="#ps" x="1376" y="489"/><use href="#kx" x="1374" y="729"/>
<text x="1415" y="465">all data</text>
<text x="1415" y="499"><tspan font-style="italic">f</tspan><tspan font-size="20" dy="8">T</tspan><tspan dy="-8"> = 0.0045 Hz</tspan></text>
<text x="1415" y="543"><tspan font-style="italic">A</tspan><tspan font-size="20" dy="8">T</tspan><tspan dy="-8"> = 103 mK</tspan></text>
<text x="1414" y="738">[17] PRL 2022</text>
<text x="1660" y="465">⟨Δ<tspan font-style="italic">T</tspan>⟩, <tspan font-style="italic">A</tspan><tspan font-size="20" dy="8">T</tspan><tspan dy="-8"> = 103 mK</tspan></text>
<use href="#rd" x="1641" y="496"/><use href="#gs" x="1641" y="528"/><use href="#bt" x="1641" y="562"/>
<text x="1671" y="506">-32 mK</text>
<text x="1671" y="538">0 mK</text>
<text x="1671" y="570">52 mK</text>
</g>
</svg>
</body></html>
